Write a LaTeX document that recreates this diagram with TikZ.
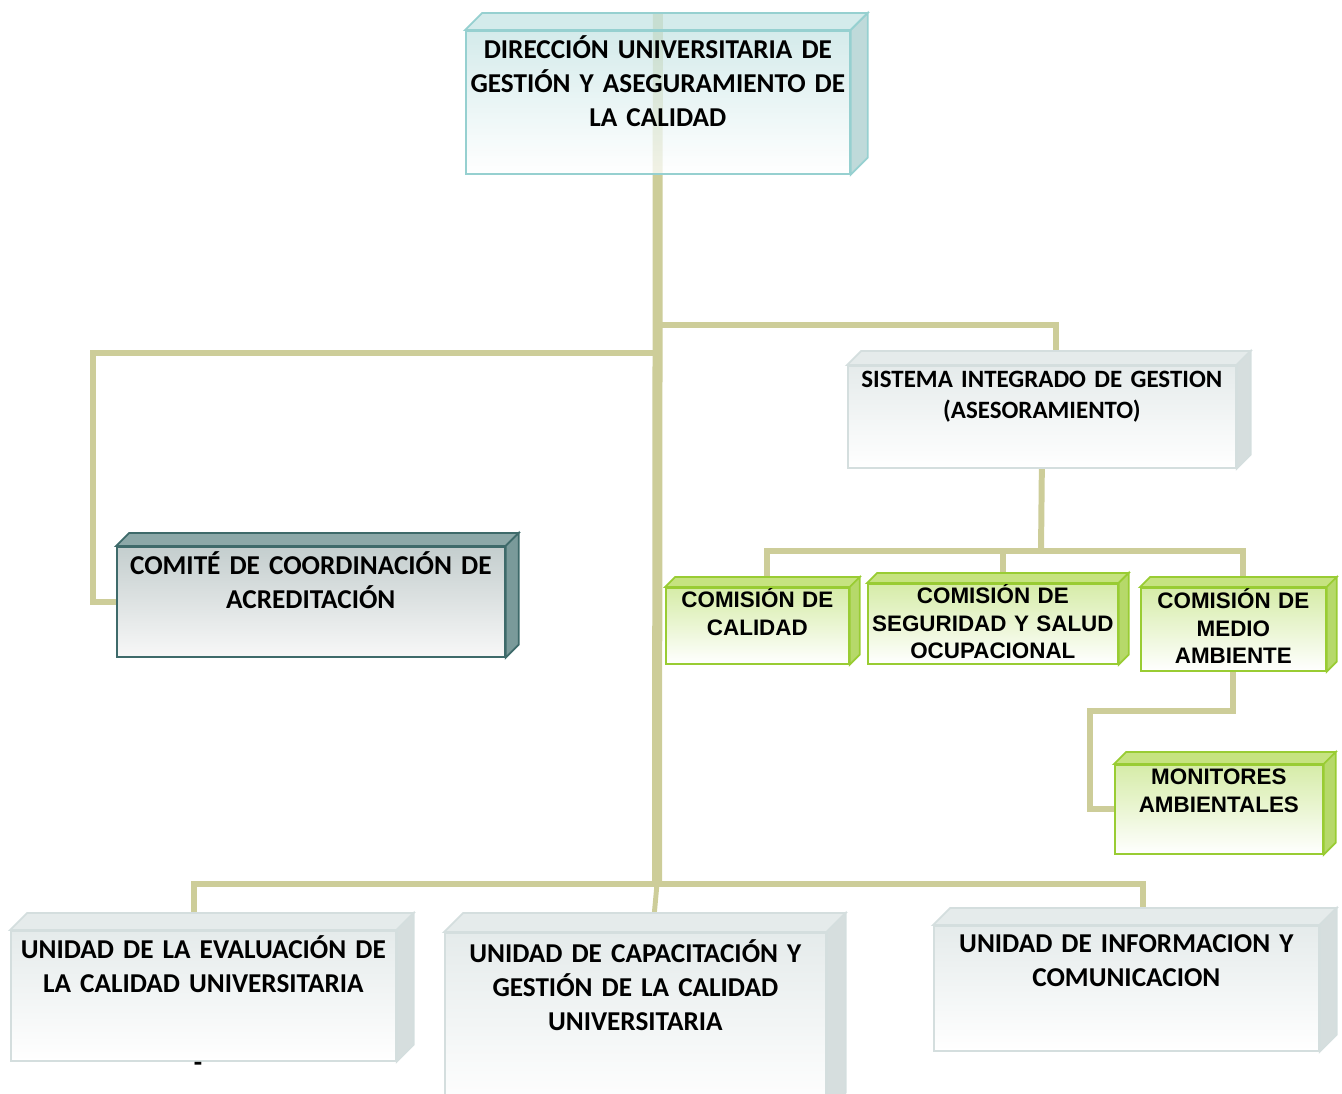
\documentclass[tikz,border=0pt]{standalone}
\usepackage{fontspec}
\newfontfamily\calfont{Carlito}
\newfontfamily\arifont{Liberation Sans}
\usetikzlibrary{backgrounds}

\definecolor{linkc}{RGB}{205,205,153}
\definecolor{tealb}{RGB}{150,208,208}
\definecolor{tealt}{RGB}{198,228,228}
\definecolor{teals}{RGB}{170,206,206}
\definecolor{grayb}{RGB}{212,222,222}
\definecolor{grayt}{RGB}{229,235,235}
\definecolor{grays}{RGB}{214,222,222}
\definecolor{darkb}{RGB}{62,106,106}
\definecolor{darkt}{RGB}{140,168,168}
\definecolor{darks}{RGB}{122,154,154}
\definecolor{darkf}{RGB}{196,206,206}
\definecolor{greenb}{RGB}{153,204,51}
\definecolor{greent}{RGB}{198,227,128}
\definecolor{greens}{RGB}{182,217,106}
\definecolor{greenf}{RGB}{214,236,168}

\tikzset{
  box/.style={rectangle, anchor=north west, inner sep=0pt, align=center, line width=1pt},
  bigtext/.style={font=\calfont\bfseries\fontsize{15.5}{19.3}\selectfont},
  smalltext/.style={font=\arifont\bfseries\fontsize{12.75}{15.6}\selectfont},
  tealbox/.style={box, bigtext, draw=tealb, top color=tealt, bottom color=white},
  graybox/.style={box, bigtext, draw=grayb, top color=grayt, bottom color=white},
  darkbox/.style={box, bigtext, draw=darkb, top color=darkf, bottom color=white!97!black},
  greenbox/.style={box, smalltext, draw=greenb, top color=greenf, bottom color=white},
  link/.style={draw=linkc, line width=3.4pt},
  trunk/.style={draw=linkc, line width=5.7pt},
}

% top and side faces of a box: name, depth, border, top, side
\newcommand{\cubeside}[5]{%
  \filldraw[draw=#3, fill=#4, line width=1pt] (#1.north west) -- ([shift={(#2,-#2)}]#1.north west)
    -- ([shift={(#2,-#2)}]#1.north east) -- (#1.north east) -- cycle;
  \filldraw[draw=#3, fill=#5, line width=1pt] (#1.north east) -- ([shift={(#2,-#2)}]#1.north east)
    -- ([shift={(#2,-#2)}]#1.south east) -- (#1.south east) -- cycle;
  \coordinate (#1-top) at ([shift={(#2,-#2)}]#1.north);
}

\begin{document}
\begin{tikzpicture}[x=0.02cm, y=-0.02cm]
    \useasboundingbox (0,0) rectangle (1342,1093);

    % boxes
    \node[tealbox, fill opacity=0.75, text opacity=1, text width=7.68cm, text height=0.56cm, text depth=2.30cm] (dir) at (465,30)
        {DIRECCIÓN UNIVERSITARIA DE\\GESTIÓN Y ASEGURAMIENTO DE\\LA CALIDAD};
    \node[graybox, font=\calfont\bfseries\fontsize{14.2}{17.6}\selectfont, text width=7.76cm, text height=0.44cm, text depth=1.60cm] (sig) at (847,365)
        {SISTEMA INTEGRADO DE GESTION\\(ASESORAMIENTO)};
    \node[darkbox, text width=7.76cm, text height=0.56cm, text depth=1.64cm] (com) at (116,546)
        {COMITÉ DE COORDINACIÓN DE\\ACREDITACIÓN};
    \node[greenbox, text width=3.66cm, text height=0.40cm, text depth=1.12cm] (cal) at (665,587)
        {COMISIÓN DE\\CALIDAD};
    \node[greenbox, text width=5.00cm, text height=0.40cm, text depth=1.20cm] (seg) at (867,583)
        {COMISIÓN DE\\SEGURIDAD Y SALUD\\OCUPACIONAL};
    \node[greenbox, text width=3.70cm, text height=0.42cm, text depth=1.24cm] (med) at (1140,587)
        {COMISIÓN DE\\MEDIO\\AMBIENTE};
    \node[greenbox, text width=4.16cm, text height=0.40cm, text depth=1.38cm] (mon) at (1114,764)
        {MONITORES\\AMBIENTALES};
    \node[graybox, text width=7.70cm, text height=0.56cm, text depth=2.04cm] (eva) at (10,930)
        {UNIDAD DE LA EVALUACIÓN DE\\LA CALIDAD UNIVERSITARIA};
    \node[graybox, text width=7.62cm, text height=0.60cm, text depth=2.96cm] (cap) at (444,932)
        {UNIDAD DE CAPACITACIÓN Y\\GESTIÓN DE LA CALIDAD\\UNIVERSITARIA};
    \node[graybox, text width=7.70cm, text height=0.54cm, text depth=1.96cm] (inf) at (933,925)
        {UNIDAD DE INFORMACION Y\\COMUNICACION};
    \node[bigtext, anchor=base, inner sep=0pt] (dash) at (198,1071) {-};

    \begin{scope}[fill opacity=0.75]
        \cubeside{dir}{17}{tealb}{tealt}{teals}
    \end{scope}
    \cubeside{sig}{14}{grayb}{grayt}{grays}
    \cubeside{com}{13}{darkb}{darkt}{darks}
    \cubeside{cal}{10}{greenb}{greent}{greens}
    \cubeside{seg}{10}{greenb}{greent}{greens}
    \cubeside{med}{10}{greenb}{greent}{greens}
    \cubeside{mon}{12}{greenb}{greent}{greens}
    \cubeside{eva}{17}{grayb}{grayt}{grays}
    \cubeside{cap}{19}{grayb}{grayt}{grays}
    \cubeside{inf}{17}{grayb}{grayt}{grays}

    % connectors
    \begin{scope}[on background layer]
        \coordinate (bb) at (657,884);
        \coordinate (rj) at (657,325);
        \coordinate (lj) at (657,353);
        \coordinate (lk) at (93,353);
        \coordinate (sb) at (1041,551);
        \coordinate (mk) at (1090,711);
        \coordinate (el) at (194,913);
        \draw[trunk] (dir.north |- dir-top) -- (bb);
        \draw[link] (rj) -| (sig-top);
        \draw[link] (lj) -- (lk) |- (com.west);
        \draw[link] (sig.south) -- (sb);
        \draw[link] (cal-top) |- (sb) -| (med-top);
        \draw[link] (seg-top) -- (seg-top |- sb);
        \draw[link] (med.south) |- (mk) |- (mon.west);
        \draw[link] (el) |- (bb) -| (inf-top);
        \draw[link, line width=2.8pt] (bb) -- (cap-top);
    \end{scope}
\end{tikzpicture}
\end{document}
